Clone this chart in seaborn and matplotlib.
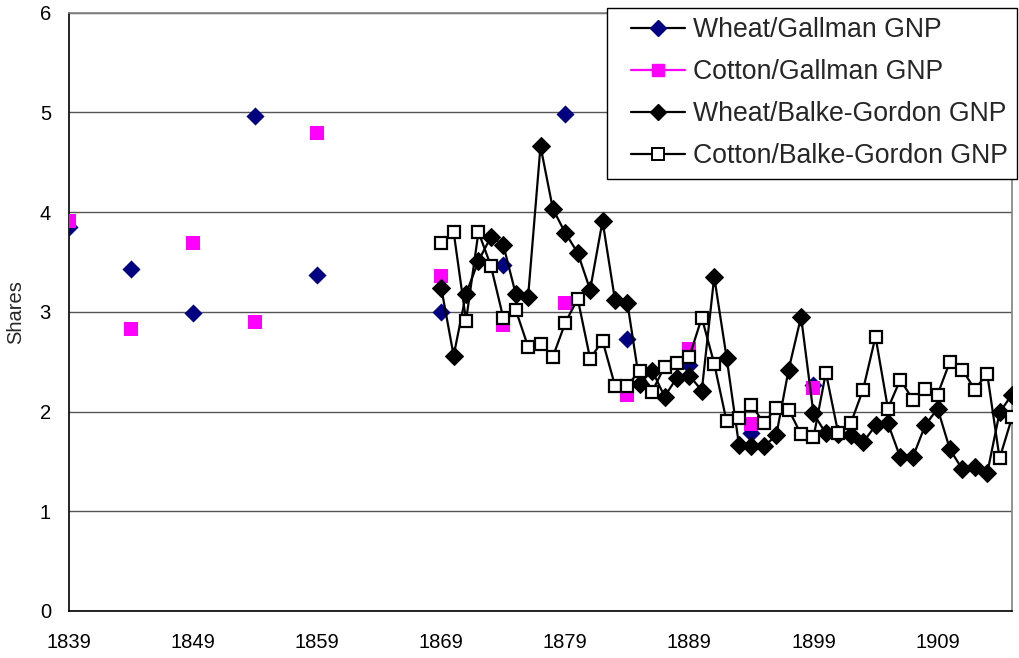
import matplotlib
matplotlib.use("Agg")
import matplotlib.pyplot as plt
from matplotlib.lines import Line2D
from matplotlib.legend_handler import HandlerLine2D
import seaborn as sns

# Gallman GNP shares (every five years)
gallman_years = [1839, 1844, 1849, 1854, 1859, 1869, 1874, 1879, 1884, 1889, 1894, 1899]
wheat_gallman = [3.85, 3.43, 2.99, 4.96, 3.37, 3.00, 3.47, 4.98, 2.73, 2.47, 1.78, 2.27]
cotton_gallman = [3.91, 2.83, 3.69, 2.90, 4.79, 3.36, 2.87, 3.09, 2.17, 2.63, 1.87, 2.24]

# Balke-Gordon GNP shares (annual)
bg_years = list(range(1869, 1916))
wheat_bg = [3.24, 2.56, 3.18, 3.51, 3.75, 3.67, 3.18, 3.15, 4.66, 4.03,
            3.79, 3.59, 3.22, 3.91, 3.12, 3.09, 2.28, 2.41, 2.15, 2.34,
            2.36, 2.21, 3.35, 2.54, 1.66, 1.65, 1.65, 1.76, 2.42, 2.95,
            1.98, 1.78, 1.77, 1.76, 1.69, 1.86, 1.88, 1.54, 1.54, 1.86,
            2.03, 1.62, 1.42, 1.44, 1.38, 1.99, 2.17]
cotton_bg = [3.69, 3.80, 2.91, 3.80, 3.46, 2.94, 3.02, 2.65, 2.68, 2.55,
             2.89, 3.13, 2.53, 2.71, 2.26, 2.26, 2.41, 2.20, 2.45, 2.49,
             2.55, 2.94, 2.48, 1.90, 1.93, 2.07, 1.88, 2.04, 2.02, 1.77,
             1.74, 2.39, 1.78, 1.88, 2.22, 2.75, 2.03, 2.32, 2.12, 2.23,
             2.17, 2.50, 2.42, 2.22, 2.38, 1.53, 1.94]

labels = ["Wheat/Gallman GNP", "Cotton/Gallman GNP",
          "Wheat/Balke-Gordon GNP", "Cotton/Balke-Gordon GNP"]

sns.set_style("white")
plt.rcParams["font.family"] = ["Liberation Sans", "DejaVu Sans"]

fig = plt.figure(figsize=(10.2, 6.58), dpi=100)
ax = fig.add_axes([69 / 1020, 1 - 611 / 658, 943 / 1020, 598.5 / 658])

navy = "#000080"
magenta = "#FF00FF"

sns.scatterplot(x=gallman_years, y=wheat_gallman, marker="D", s=85,
                color=navy, linewidth=0, ax=ax, zorder=3)
sns.scatterplot(x=gallman_years, y=cotton_gallman, marker="s", s=110,
                color=magenta, linewidth=0, ax=ax, zorder=3)
sns.lineplot(x=bg_years, y=wheat_bg, color="black", lw=1.6, marker="D",
             markersize=9, markerfacecolor="black", markeredgecolor="black",
             ax=ax, zorder=4)
sns.lineplot(x=bg_years, y=cotton_bg, color="black", lw=1.6, marker="s",
             markersize=9, markerfacecolor="white", markeredgecolor="black",
             markeredgewidth=1.6, ax=ax, zorder=5)

ax.set_xlim(1839, 1915)
ax.set_ylim(0, 6)
ax.set_xticks(range(1839, 1910, 10))
ax.set_yticks(range(0, 7))
ax.yaxis.grid(True, color="#555555", lw=1)
ax.xaxis.grid(False)
ax.set_axisbelow(True)
ax.tick_params(axis="both", direction="out", length=6, width=1, color="black",
               labelsize=14.5, labelcolor="black")
ax.tick_params(axis="x", pad=10)
ax.tick_params(axis="y", pad=7)
for side in ["left", "bottom"]:
    ax.spines[side].set_color("black")
    ax.spines[side].set_linewidth(1.2)
for side in ["top", "right"]:
    ax.spines[side].set_color("#808080")
    ax.spines[side].set_linewidth(1.2)

ax.set_xlabel("")
ax.set_ylabel("Shares", fontsize=14.5)
ax.yaxis.set_label_coords(-0.046, 0.5)

handles = [
    Line2D([], [], color="black", lw=1.6, marker="D", markersize=8,
           markerfacecolor=navy, markeredgecolor=navy),
    Line2D([], [], color=magenta, lw=1.6, marker="s", markersize=9,
           markerfacecolor=magenta, markeredgecolor=magenta),
    Line2D([], [], color="black", lw=1.6, marker="D", markersize=8,
           markerfacecolor="black", markeredgecolor="black"),
    Line2D([], [], color="black", lw=1.6, marker="s", markersize=8,
           markerfacecolor="white", markeredgecolor="black", markeredgewidth=1.4),
]
leg = ax.legend(handles, labels, loc="upper right",
                bbox_to_anchor=(1017 / 1020, 1 - 8 / 658),
                bbox_transform=fig.transFigure, borderaxespad=0,
                fontsize=19.2, frameon=True, fancybox=False, framealpha=1,
                edgecolor="black", handlelength=2.57, handletextpad=0.3,
                labelspacing=0.6, borderpad=0.35,
                handler_map={Line2D: HandlerLine2D(xpad=0.55)})
leg.get_frame().set_linewidth(1)
leg.set_zorder(10)

fig.savefig("out.png", dpi=100)
